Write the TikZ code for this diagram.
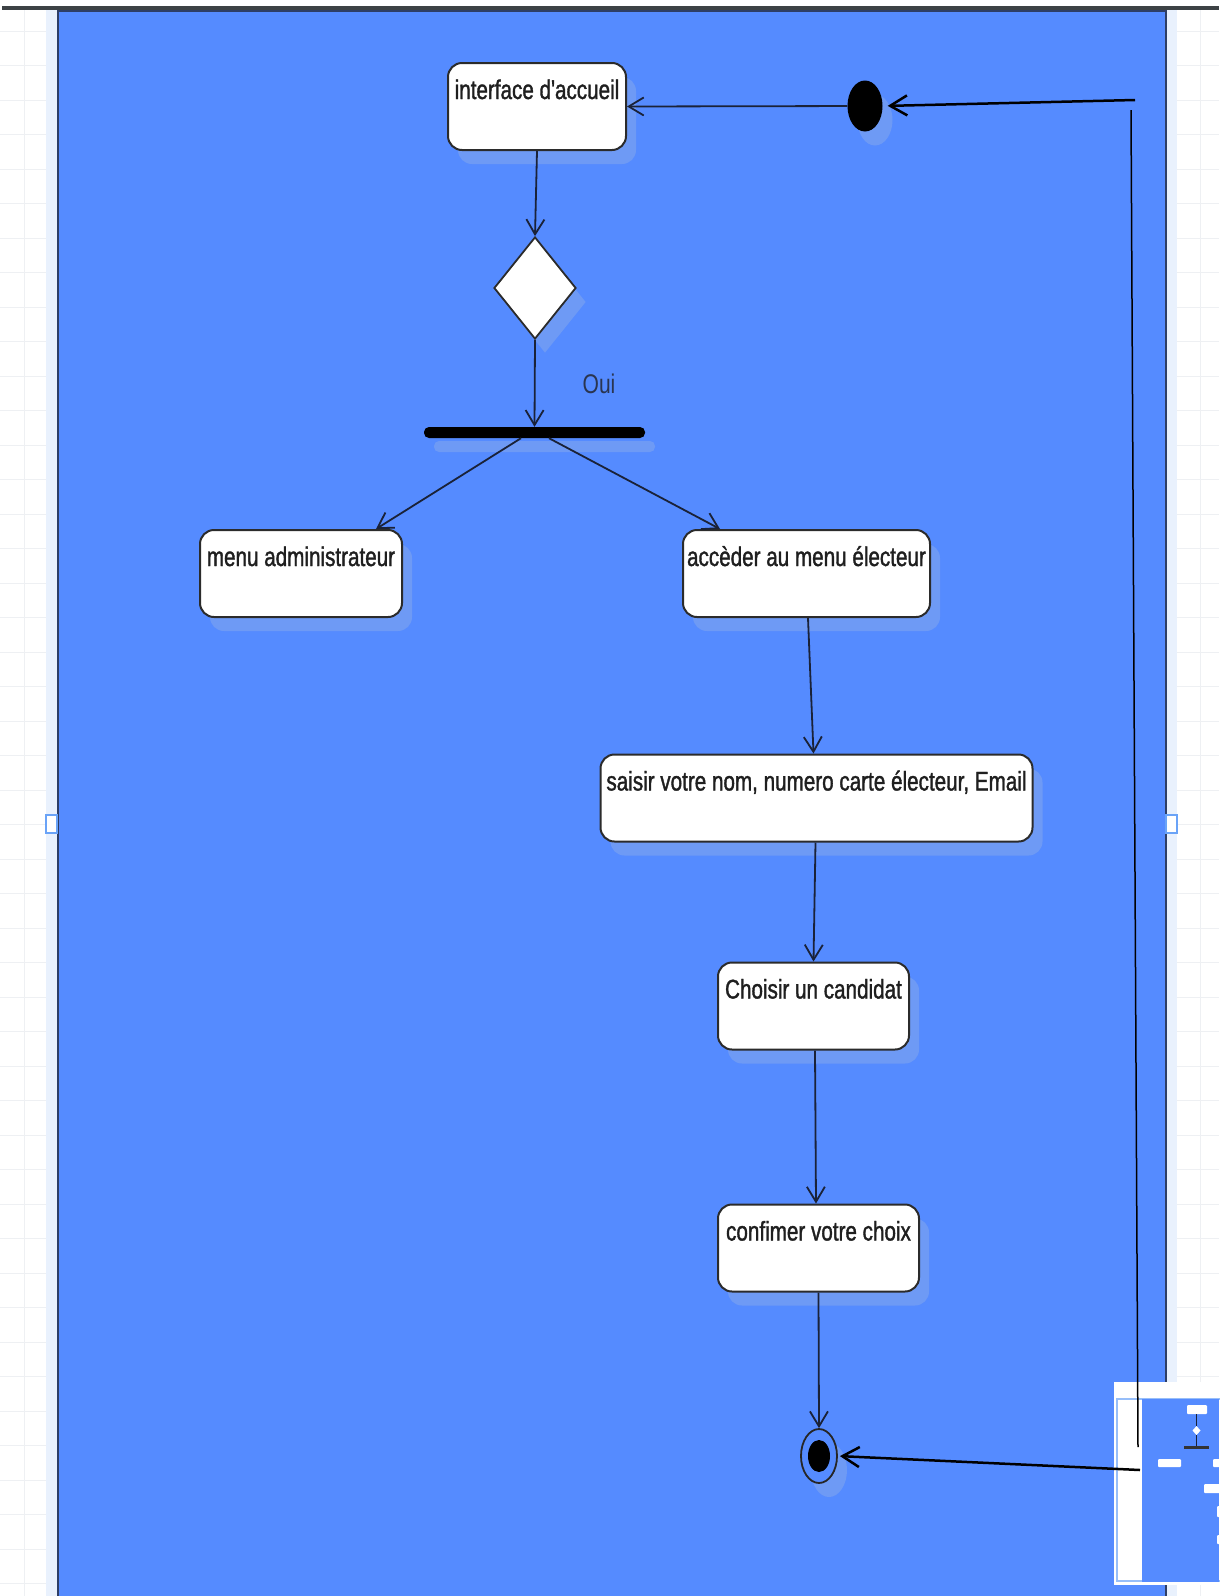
\documentclass[tikz,border=0pt]{standalone}
\usepackage{fontspec}
\setmainfont{Liberation Sans}
\newfontfamily\etatfont[FakeStretch=0.765, FakeBold=1.3, Ligatures=TeXOff]{Liberation Sans}
\newfontfamily\ouifont[FakeStretch=0.78]{Liberation Sans}
\usepackage{xcolor}
\usetikzlibrary{arrows.meta, positioning, shapes.geometric, shadows}

\definecolor{fondbleu}{HTML}{558BFF}
\definecolor{ombrebleu}{HTML}{6E9AF5}
\definecolor{bordure}{HTML}{2B2B2B}
\definecolor{trait}{HTML}{1A2238}
\definecolor{grille}{HTML}{EEF0F3}
\definecolor{selection}{HTML}{E9F1FD}
\definecolor{poignee}{HTML}{6AA3F7}
\definecolor{cadre}{HTML}{2E3E66}
\definecolor{barrehaut}{HTML}{3D4245}
\definecolor{ouicol}{HTML}{2A3550}

\begin{document}
\begin{tikzpicture}[
    x=1pt, y=-1pt,
    ombre/.style={drop shadow={shadow xshift=10pt, shadow yshift=-14pt,
                  fill=ombrebleu, opacity=1}},
    etat/.style={rectangle, draw=bordure, line width=2pt, rounded corners=14pt,
                 fill=white, text height=32pt, text depth=47pt, inner xsep=4pt,
                 inner ysep=4pt, text=black!88,
                 font={\etatfont\fontsize{27}{32}\selectfont}, ombre},
    choix/.style={diamond, draw=bordure, line width=1.8pt, fill=white,
                  minimum width=82pt, minimum height=102pt, inner sep=0pt, ombre},
    barre/.style={rectangle, fill=black, rounded corners=5pt, minimum width=221pt,
                  minimum height=11pt, inner sep=0pt, ombre},
    depart/.style={ellipse, fill=black, minimum width=35pt, minimum height=51pt,
                   inner sep=0pt, ombre},
    fin/.style={ellipse, draw=black!85, line width=1.8pt, fill=fondbleu,
                minimum width=36pt, minimum height=54pt, inner sep=0pt, ombre},
    finpoint/.style={ellipse, fill=black, minimum width=22pt, minimum height=32pt,
                     inner sep=0pt},
    fleche/.style={-{Straight Barb[length=15pt, width=18pt]}, draw=trait, line width=1.8pt},
    flechenoire/.style={-{Straight Barb[length=17pt, width=20pt]}, draw=black, line width=2.5pt}
]
  \useasboundingbox (0,0) rectangle (1219,1596);

  % fond de l'editeur
  \fill[white] (0,0) rectangle (1219,1596);
  \foreach \i in {0,...,35}
    \draw[grille, line width=1pt] ({24+34.6*\i},10) -- ({24+34.6*\i},1596);
  \foreach \i in {0,...,45}
    \draw[grille, line width=1pt] (0,{31+34.5*\i}) -- (1219,{31+34.5*\i});
  \fill[barrehaut] (2,6) rectangle (1219,9.5);
  \fill[selection] (46,10) rectangle (1177,1596);
  \filldraw[fill=fondbleu, draw=cadre, line width=1.5pt] (58,11) rectangle (1166,1600);
  \filldraw[fill=white, draw=poignee, line width=1.5pt] (46,815) rectangle (57,833);
  \filldraw[fill=white, draw=poignee, line width=1.5pt] (1166,815) rectangle (1177,833);

  % noeuds
  \node[etat, minimum width=178pt] (accueil) at (537,106.5) {interface d'accueil};
  \node[depart] (debut) at (865,106) {};
  \node[choix] (decision) at (535,288) {};
  \node[font={\ouifont\fontsize{27}{32}\selectfont}, text=ouicol] (oui) at (599,384) {Oui};
  \node[barre] (fourche) at (534.5,432.5) {};
  \node[etat, minimum width=202pt] (admin) at (301,573.5) {menu administrateur};
  \node[etat, minimum width=247pt] (electeur) at (806.5,573.5) {accèder au menu électeur};
  \node[etat, minimum width=432pt] (saisie) at (816.5,798) {saisir votre nom, numero carte électeur, Email};
  \node[etat, minimum width=191pt] (candidat) at (813.5,1006) {Choisir un candidat};
  \node[etat, minimum width=201pt] (confirmer) at (818.5,1248) {confimer votre choix};
  \node[fin] (final) at (819,1456) {};
  \node[finpoint] (finalpoint) at (final) {};

  % apercu
  \fill[white] (1114,1382) rectangle (1219,1585);
  \draw[poignee!70, line width=1.2pt] (1117,1399) rectangle (1230,1581);
  \fill[fondbleu] (1142,1399) rectangle (1219,1582);
  \fill[white, rounded corners=1pt] (1187,1405) rectangle (1207,1414);
  \fill[white] (1196.5,1426) -- (1200.5,1430.5) -- (1196.5,1435) -- (1192.5,1430.5) -- cycle;
  \draw[trait, line width=0.7pt] (1196.5,1414) -- (1196.5,1426) (1196.5,1435) -- (1196.5,1446);
  \fill[black!80] (1184,1446) rectangle (1209,1448.5);
  \fill[white, rounded corners=1pt] (1158,1459) rectangle (1181,1467);
  \fill[white, rounded corners=1pt] (1213,1459) rectangle (1222,1467);
  \fill[white, rounded corners=1pt] (1204,1484) rectangle (1222,1493);
  \fill[white, rounded corners=1pt] (1217,1506) rectangle (1222,1517);
  \fill[white, rounded corners=1pt] (1217,1535) rectangle (1222,1544);

  % liens
  \coordinate (hautdroite) at (1135,100);
  \coordinate (coude) at (1131,110);
  \coordinate (basvertical) at (1138,1447);
  \coordinate (basdroite) at (1140,1470);

  \draw[fleche] (debut) -- (accueil.east);
  \draw[fleche] (accueil.south) -- (decision.north);
  \draw[fleche] (decision.south) -- (fourche.north);
  \draw[fleche] ([xshift=-13.5pt]fourche.south) -- ([xshift=75pt]admin.north);
  \draw[fleche] ([xshift=14.5pt]fourche.south) -- ([xshift=-86.5pt]electeur.north);
  \draw[fleche] ([xshift=1.5pt]electeur.south) -- ([xshift=-3pt]saisie.north);
  \draw[fleche] ([xshift=-1pt]saisie.south) -- (candidat.north);
  \draw[fleche] ([xshift=1.5pt]candidat.south) -- ([xshift=-2.5pt]confirmer.north);
  \draw[fleche] (confirmer.south) -- (final.north);

  \draw[flechenoire, shorten >=5pt] (hautdroite) -- (debut.east);
  \draw[draw=black, line width=1.5pt] (coude) -- (basvertical);
  \draw[flechenoire, shorten >=2pt] (basdroite) -- (final.east);
\end{tikzpicture}
\end{document}
